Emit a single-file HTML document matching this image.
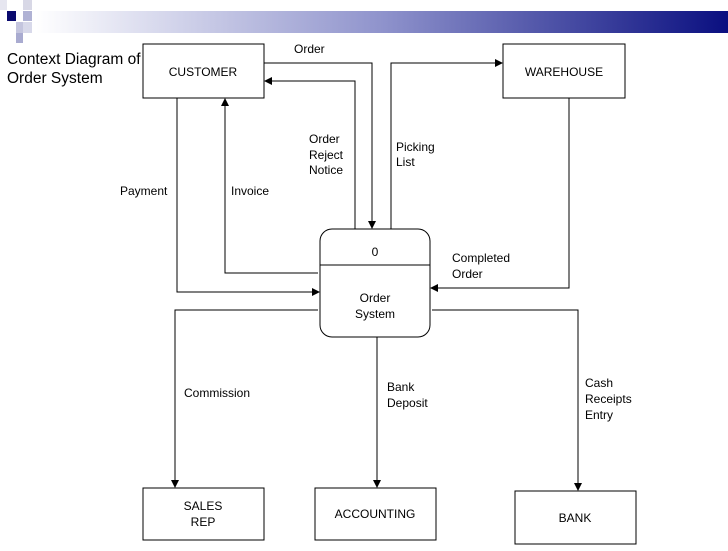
<!DOCTYPE html>
<html><head><style>
body{margin:0;width:728px;height:546px;background:#fff;overflow:hidden;font-family:"Liberation Sans",sans-serif}
</style></head><body>
<svg width="728" height="546" xmlns="http://www.w3.org/2000/svg" font-family="Liberation Sans, sans-serif">
<defs>
<linearGradient id="g" x1="0" x2="1"><stop offset="0" stop-color="#fff"/><stop offset="0.5" stop-color="#8f93cc"/><stop offset="1" stop-color="#0a0f80"/></linearGradient>
<marker id="a" markerWidth="8" markerHeight="8" refX="7" refY="4" orient="auto" markerUnits="userSpaceOnUse"><path d="M0,0 L8,4 L0,8 z" fill="#000"/></marker>
</defs>
<rect x="36" y="11" width="692" height="22" fill="url(#g)"/>
<rect x="0" y="0" width="7" height="10" fill="#e6e6f0"/>
<rect x="23" y="0" width="9" height="10" fill="#d8d8e6"/>
<rect x="7" y="11" width="9" height="10" fill="#0a0a6e"/>
<rect x="23" y="11" width="9" height="10" fill="#b0b2d4"/>
<rect x="16" y="22" width="7" height="11" fill="#c4c5de"/>
<rect x="23" y="22" width="9" height="11" fill="#d8d9ea"/>
<rect x="16" y="33" width="7" height="10" fill="#a9abd0"/>
<g font-size="15.5" fill="#000"><text x="7" y="64">Context Diagram of</text><text x="7" y="83">Order System</text></g>
<g fill="none" stroke="#000" stroke-width="1">
<rect x="143" y="44" width="121" height="54"/>
<rect x="503" y="44" width="122" height="54"/>
<rect x="320" y="229" width="110" height="108" rx="12"/>
<line x1="320" y1="265" x2="430" y2="265"/>
<rect x="143" y="488" width="121" height="52"/>
<rect x="315" y="488" width="121" height="52"/>
<rect x="515" y="491" width="121" height="53"/>
<polyline points="264,63 372,63 372,228" marker-end="url(#a)"/>
<polyline points="355,229 355,81 265,81" marker-end="url(#a)"/>
<polyline points="391,229 391,63 502,63" marker-end="url(#a)"/>
<polyline points="318,273 225,273 225,99" marker-end="url(#a)"/>
<polyline points="177,98 177,292 319,292" marker-end="url(#a)"/>
<polyline points="569,98 569,288 431,288" marker-end="url(#a)"/>
<polyline points="318,310 175,310 175,487" marker-end="url(#a)"/>
<polyline points="377,337 377,487" marker-end="url(#a)"/>
<polyline points="432,310 578,310 578,490" marker-end="url(#a)"/>
</g>
<g font-size="12" fill="#000">
<text x="203" y="76" text-anchor="middle">CUSTOMER</text>
<text x="564" y="76" text-anchor="middle">WAREHOUSE</text>
<text x="375" y="256" text-anchor="middle">0</text>
<text x="375" y="302" text-anchor="middle">Order</text>
<text x="375" y="318" text-anchor="middle">System</text>
<text x="203" y="510" text-anchor="middle">SALES</text>
<text x="203" y="526" text-anchor="middle">REP</text>
<text x="375" y="518" text-anchor="middle">ACCOUNTING</text>
<text x="575" y="522" text-anchor="middle">BANK</text>
<text x="294" y="53">Order</text>
<text x="309" y="143">Order</text><text x="309" y="159">Reject</text><text x="309" y="174">Notice</text>
<text x="396" y="151">Picking</text><text x="396" y="166">List</text>
<text x="120" y="195">Payment</text>
<text x="231" y="195">Invoice</text>
<text x="452" y="262">Completed</text><text x="452" y="278">Order</text>
<text x="184" y="397">Commission</text>
<text x="387" y="391">Bank</text><text x="387" y="407">Deposit</text>
<text x="585" y="387">Cash</text><text x="585" y="403">Receipts</text><text x="585" y="419">Entry</text>
</g>
</svg>
</body></html>
